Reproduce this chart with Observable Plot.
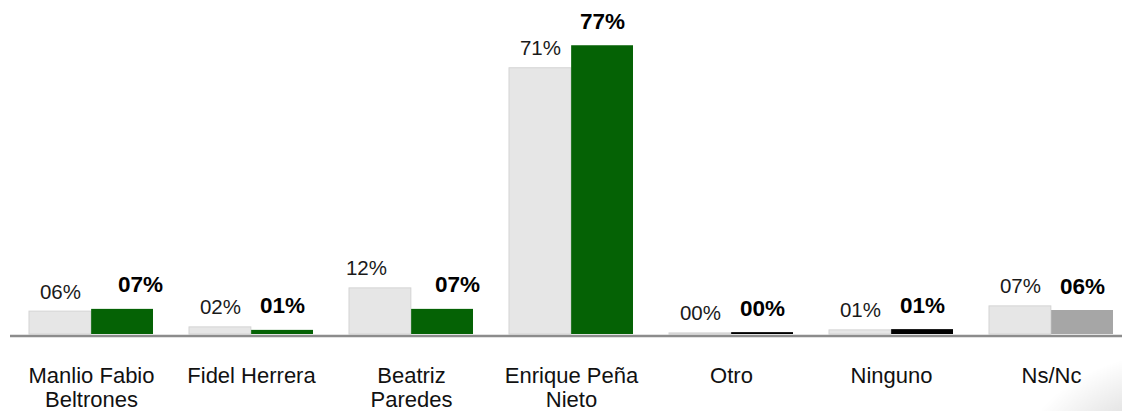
<!DOCTYPE html>
<html><head><meta charset="utf-8">
<script src="https://cdn.jsdelivr.net/npm/d3@7"></script>
<script src="https://cdn.jsdelivr.net/npm/@observablehq/plot@0.6"></script>
<style>
html,body{margin:0;padding:0;background:#fff;}
#chart{position:relative;width:1122px;height:411px;overflow:hidden;}
#chart svg{display:block;}
.curl{position:absolute;right:-60px;bottom:-60px;width:180px;height:130px;pointer-events:none;
background:radial-gradient(ellipse at 100% 100%, rgba(0,0,0,0.35) 0%, rgba(0,0,0,0.12) 35%, rgba(0,0,0,0) 65%);}
</style></head><body><div id="chart"></div>
<script>
const categories = ["Manlio Fabio\nBeltrones", "Fidel Herrera", "Beatriz\nParedes", "Enrique Peña\nNieto", "Otro", "Ninguno", "Ns/Nc"];
const previous = [6.1, 1.9, 12.3, 71, 0.3, 1.1, 7.5];
const current = [6.7, 1.1, 6.7, 77, 0.5, 1.3, 6.4];
const previousLabels = ["06%", "02%", "12%", "71%", "00%", "01%", "07%"];
const currentLabels = ["07%", "01%", "07%", "77%", "00%", "01%", "06%"];

const rows = categories.map((c, i) => ({cat: c, prev: previous[i], cur: current[i], prevLabel: previousLabels[i], curLabel: currentLabels[i]}));

const currentColor = (c) => c === "Ns/Nc" ? "#a6a6a6" : (c === "Otro" || c === "Ninguno") ? "#000000" : "#056205";
// label nudges seen in the reference
const prevShift = {"Beatriz\nParedes": -14};
const curShift = {"Manlio Fabio\nBeltrones": 18, "Beatriz\nParedes": 15};

const half = 62.15;
const font = "Liberation Sans, Arial, sans-serif";

const marks = [
  Plot.barY(rows, {x: "cat", y: "prev", fill: "#e6e6e6", stroke: "#d4d4d4", strokeWidth: 1, insetRight: half}),
  Plot.barY(rows, {x: "cat", y: "cur", fill: d => currentColor(d.cat), insetLeft: half}),
  Plot.ruleY([0], {stroke: "#8c8c8c", strokeWidth: 2.6, dy: 1.5}),
  Plot.axisX({tickSize: 0, tickPadding: 31, fontSize: 22, lineHeight: 1.1, label: null, fontFamily: font})
];
for (const r of rows) {
  marks.push(Plot.text([r], {x: "cat", y: "prev", text: "prevLabel", lineAnchor: "bottom", dy: -13, dx: -half / 2 + (prevShift[r.cat] || 0), fontSize: 20.5, fill: "#1a1a1a", fontFamily: font}));
  marks.push(Plot.text([r], {x: "cat", y: "cur", text: "curLabel", lineAnchor: "bottom", dy: -17, dx: half / 2 + (curShift[r.cat] || 0), fontSize: 22.5, fontWeight: "bold", fill: "#000", fontFamily: font}));
}

const chart = Plot.plot({
  width: 1122,
  height: 411,
  marginLeft: 10,
  marginRight: 0,
  marginTop: 0,
  marginBottom: 77,
  style: {fontFamily: font, color: "#111", background: "transparent"},
  x: {domain: categories, range: [9, 1132], paddingInner: 0.225, paddingOuter: 0.1125, label: null, axis: null},
  y: {domain: [0, 80], range: [334, 34], axis: null},
  marks
});
const el = document.getElementById("chart");
el.appendChild(chart);
const curl = document.createElement("div");
curl.className = "curl";
el.appendChild(curl);
</script>
</body></html>
